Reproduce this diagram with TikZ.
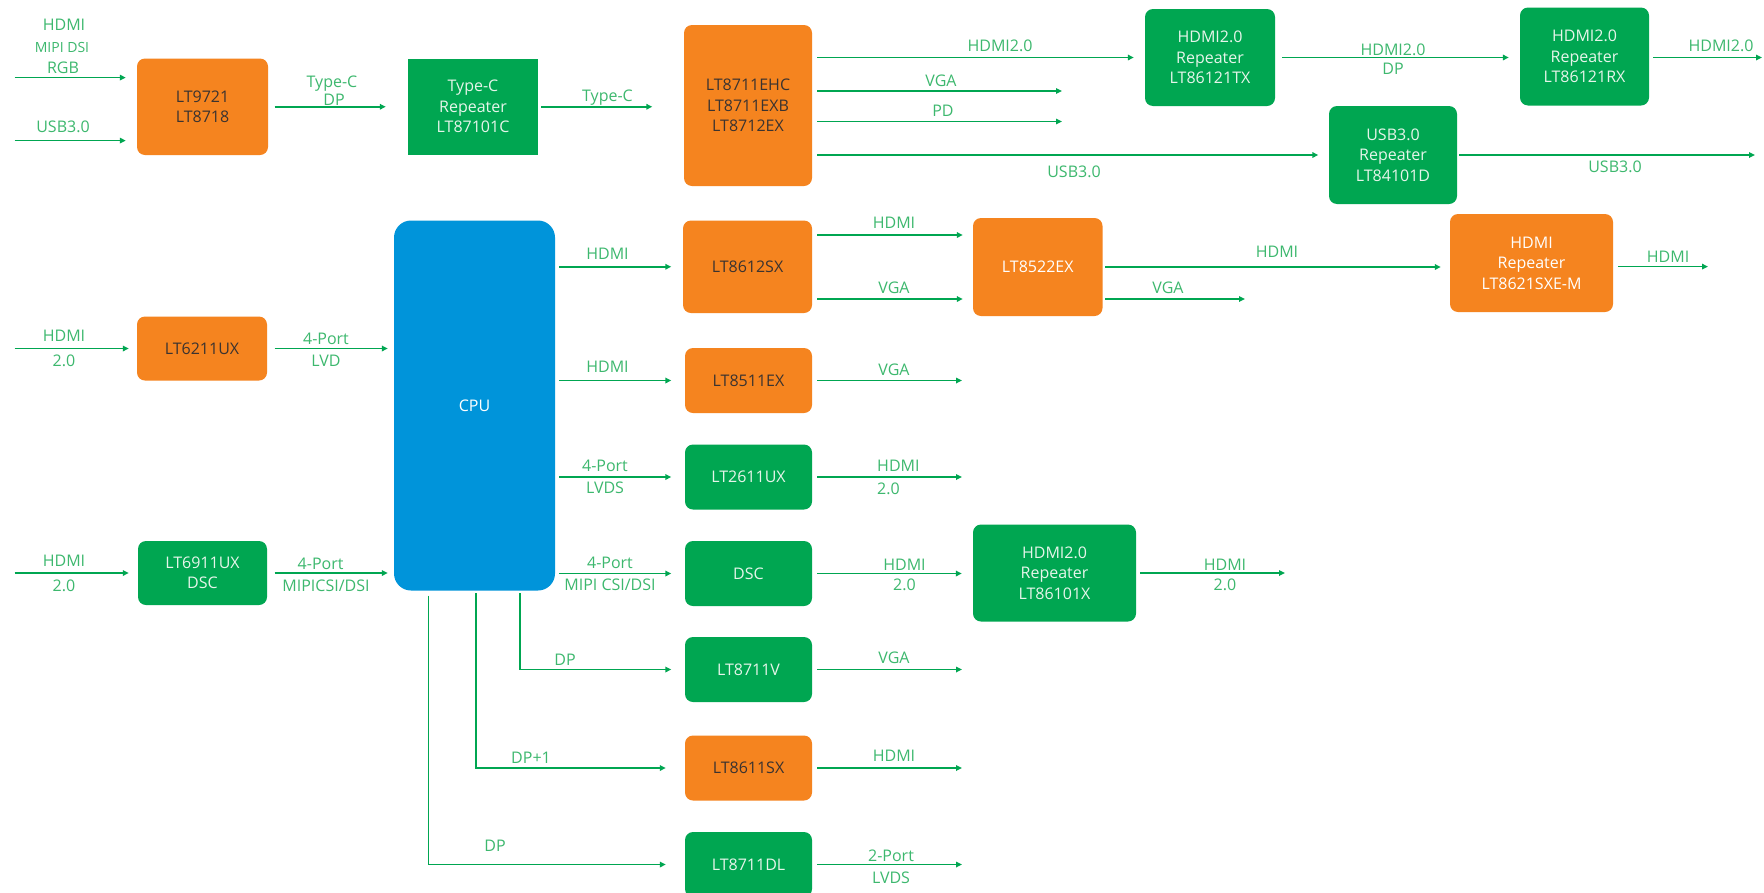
\documentclass[tikz,border=0pt]{standalone}
\usepackage{fontspec}
\setmainfont{Open Sans}
\usetikzlibrary{arrows.meta,calc}
\definecolor{orgc}{HTML}{F5841F}
\definecolor{grnc}{HTML}{00A651}
\definecolor{bluc}{HTML}{0094DA}
\definecolor{lblc}{HTML}{3DB86E}
\definecolor{inkc}{HTML}{3B3330}
\definecolor{palec}{HTML}{E6F5EA}
\begin{document}
\begin{tikzpicture}[x=1pt,y=-1pt,
  boxbase/.style={draw=none, inner sep=0pt, align=center, font=\fontsize{16}{20.5}\selectfont},
  obox/.style={boxbase, fill=orgc, rounded corners=8pt, text=inkc},
  owbox/.style={boxbase, fill=orgc, rounded corners=8pt, text=white},
  gbox/.style={boxbase, fill=grnc, rounded corners=8pt, text=palec},
  gsq/.style={boxbase, fill=grnc, text=palec},
  cpubox/.style={boxbase, fill=bluc, rounded corners=17pt, text=white},
  midbox/.style={minimum width=127, minimum height=65},
  arr/.style={draw=grnc, line width=1.5pt, -{Triangle[length=6pt,width=5.5pt]}},
  lbl/.style={text=lblc, font=\fontsize{16}{19}\selectfont, inner sep=0pt, text height=11.5pt, text depth=0pt},
  slbl/.style={lbl, font=\fontsize{14}{16}\selectfont, text height=10pt}
]
\fill[white] (0,0) rectangle (1764,892);
\useasboundingbox (0,0) rectangle (1764,892);

% ---------- boxes ----------
\node[obox, minimum width=131, minimum height=96.5] (lt9721) at (202.5,106.75) {LT9721\\LT8718};
\node[gsq, minimum width=130, minimum height=96.5] (tcrep) at (473,106.75) {Type-C\\Repeater\\LT87101C};
\node[obox, minimum width=128, minimum height=161] (lt8711) at (748,105.5) {LT8711EHC\\LT8711EXB\\LT8712EX};
\node[gbox, minimum width=130, minimum height=97] (tx) at (1210,57.5) {HDMI2.0\\Repeater\\LT86121TX};
\node[gbox, minimum width=129, minimum height=98] (rx) at (1584.5,56.5) {HDMI2.0\\Repeater\\LT86121RX};
\node[gbox, minimum width=128, minimum height=98] (usbrep) at (1393,155) {USB3.0\\Repeater\\LT84101D};

\node[cpubox, minimum width=161, minimum height=370] (cpu) at (474.5,405.5) {CPU};
\node[obox, minimum width=130, minimum height=64] (lt6211) at (202,348.5) {LT6211UX};
\node[gbox, minimum width=129, minimum height=64] (lt6911) at (202.5,573) {LT6911UX\\DSC};

\node[obox, minimum width=129, minimum height=92.5] (lt8612) at (747.5,266.75) {LT8612SX};
\node[owbox, minimum width=129.5, minimum height=98] (lt8522) at (1037.75,267) {LT8522EX};
\node[owbox, minimum width=163, minimum height=98] (lt8621) at (1531.5,263) {HDMI\\Repeater\\LT8621SXE-M};
\node[obox, midbox] (lt8511) at (748.5,380.5) {LT8511EX};
\node[gbox, midbox] (lt2611) at (748.5,477) {LT2611UX};
\node[gbox, midbox] (dsc) at (748.5,573.5) {DSC};
\node[gbox, minimum width=163, minimum height=97] (lt86101) at (1054.5,573) {HDMI2.0\\Repeater\\LT86101X};
\node[gbox, midbox] (lt8711v) at (748.5,669.5) {LT8711V};
\node[obox, midbox] (lt8611) at (748.5,768) {LT8611SX};
\node[gbox, midbox] (lt8711dl) at (748.5,864.5) {LT8711DL};

% ---------- free ends ----------
\coordinate (inA) at (14.6,77.6);
\coordinate (inB) at (14.6,140.6);
\coordinate (vgaA) at (1062,91);
\coordinate (pdA) at (1062,121.5);
\coordinate (rxO) at (1762,57.5);
\coordinate (usbO) at (1755,155);
\coordinate (in6211) at (14.6,348.5);
\coordinate (in6911) at (14.6,573);
\coordinate (vga8522) at (1245,299);
\coordinate (o8621) at (1708,266.6);
\coordinate (o8511) at (962,380.5);
\coordinate (o2611) at (962,477);
\coordinate (o86101) at (1285,573);
\coordinate (o8711v) at (962,669.5);
\coordinate (o8611) at (962,768);
\coordinate (o8711dl) at (962,864.5);

% ---------- connectors ----------
\draw[arr] (inA) -- ($(lt9721.west |- inA)+(-11,0)$);
\draw[arr] (inB) -- ($(lt9721.west |- inB)+(-11,0)$);
\draw[arr] ($(lt9721.east)+(6.5,0)$) -- ($(tcrep.west)+(-22,0)$);
\draw[arr] ($(tcrep.east)+(3,0)$) -- ($(lt8711.west |- tcrep.east)+(-31.5,0)$);
\draw[arr] ($(lt8711.east |- tx.west)+(5,0)$) -- ($(tx.west)+(-11,0)$);
\draw[arr] ($(lt8711.east |- vgaA)+(5,0)$) -- (vgaA);
\draw[arr] ($(lt8711.east |- pdA)+(5,0)$) -- (pdA);
\draw[arr] ($(lt8711.east |- usbrep.west)+(5,0)$) -- ($(usbrep.west)+(-10.5,0)$);
\draw[arr] ($(tx.east)+(7,0)$) -- ($(rx.west |- tx.east)+(-11,0)$);
\draw[arr] ($(rx.east |- rxO)+(4,0)$) -- (rxO);
\draw[arr] ($(usbrep.east)+(2,0)$) -- (usbO);

\draw[arr] (in6211) -- ($(lt6211.west |- in6211)+(-8,0)$);
\draw[arr] ($(lt6211.east)+(7.5,0)$) -- ($(cpu.west |- lt6211.east)+(-6,0)$);
\draw[arr] (in6911) -- ($(lt6911.west |- in6911)+(-9,0)$);
\draw[arr] ($(lt6911.east)+(7.5,0)$) -- ($(cpu.west |- lt6911.east)+(-6,0)$);

\draw[arr] ($(cpu.east |- lt8612.west)+(4,0)$) -- ($(lt8612.west)+(-11.5,0)$);
\draw[arr] ($(lt8612.east)+(5,-31.75)$) -- ($(lt8522.west)+(-10,-32)$);
\draw[arr] ($(lt8612.east)+(5,32.25)$) -- ($(lt8522.west)+(-10,32)$);
\draw[arr] ($(lt8522.east)+(2.5,0)$) -- ($(lt8621.west |- lt8522.east)+(-9,0)$);
\draw[arr] ($(lt8522.east |- vga8522)+(2.5,0)$) -- (vga8522);
\draw[arr] ($(lt8621.east |- o8621)+(5,0)$) -- (o8621);

\draw[arr] ($(cpu.east |- lt8511.west)+(4,0)$) -- ($(lt8511.west)+(-13.5,0)$);
\draw[arr] ($(lt8511.east)+(5,0)$) -- (o8511);
\draw[arr] ($(cpu.east |- lt2611.west)+(4,0)$) -- ($(lt2611.west)+(-13.5,0)$);
\draw[arr] ($(lt2611.east)+(5,0)$) -- (o2611);
\draw[arr] ($(cpu.east |- dsc.west)+(4,0)$) -- ($(dsc.west)+(-13.5,0)$);
\draw[arr] ($(dsc.east)+(5,0)$) -- ($(lt86101.west |- dsc.east)+(-11,0)$);
\draw[arr] ($(lt86101.east |- o86101)+(4,0)$) -- (o86101);

\draw[arr] ($(cpu.south)+(45.5,2.5)$) |- ($(lt8711v.west)+(-13.5,0)$);
\draw[arr] ($(lt8711v.east)+(5,0)$) -- (o8711v);
\draw[arr] ($(cpu.south)+(1.5,2.5)$) |- ($(lt8611.west)+(-19,0)$);
\draw[arr] ($(lt8611.east)+(5,0)$) -- (o8611);
\draw[arr] ($(cpu.south)+(-46,5)$) |- ($(lt8711dl.west)+(-19,0)$);
\draw[arr] ($(lt8711dl.east)+(5,0)$) -- (o8711dl);

% ---------- labels ----------
\node[lbl] (t1) at (64,25) {HDMI};
\node[slbl] (t2) at (62,47) {MIPI DSI};
\node[lbl] (t3) at (63,67.5) {RGB};
\node[lbl] (t4) at (63,127) {USB3.0};
\node[lbl] (t5) at (332,82) {Type-C};
\node[lbl] (t6) at (334,100) {DP};
\node[lbl] (t7) at (607.5,96) {Type-C};
\node[lbl] (t8) at (1000,46) {HDMI2.0};
\node[lbl] (t9) at (941,81) {VGA};
\node[lbl] (t10) at (943,111) {PD};
\node[lbl] (t11) at (1074,172) {USB3.0};
\node[lbl] (t12) at (1393,49.5) {HDMI2.0};
\node[lbl] (t13) at (1393,69) {DP};
\node[lbl] (t14) at (1721,46) {HDMI2.0};
\node[lbl] (t15) at (1615,167) {USB3.0};

\node[lbl] (t16) at (64,336) {HDMI};
\node[lbl] (t17) at (64,361) {2.0};
\node[lbl] (t18) at (326,338.6) {4-Port};
\node[lbl] (t19) at (326,361) {LVD};
\node[lbl] (t20) at (64,561) {HDMI};
\node[lbl] (t21) at (64,586) {2.0};
\node[lbl] (t22) at (320.6,564) {4-Port};
\node[lbl] (t23) at (326,586) {MIPICSI/DSI};

\node[lbl] (t24) at (607.5,254) {HDMI};
\node[lbl] (t25) at (894,223) {HDMI};
\node[lbl] (t26) at (894,288) {VGA};
\node[lbl] (t27) at (1277,252) {HDMI};
\node[lbl] (t28) at (1168,288) {VGA};
\node[lbl] (t29) at (1668,256.5) {HDMI};
\node[lbl] (t30) at (607.5,367) {HDMI};
\node[lbl] (t31) at (894,370) {VGA};
\node[lbl] (t32) at (605,466) {4-Port};
\node[lbl] (t33) at (605,488) {LVDS};
\node[lbl, anchor=west] (t34) at (877,466) {HDMI};
\node[lbl, anchor=west] (t35) at (877,489) {2.0};
\node[lbl] (t36) at (610,562.5) {4-Port};
\node[lbl] (t37) at (610,585) {MIPI CSI/DSI};
\node[lbl] (t38) at (904.5,565) {HDMI};
\node[lbl] (t39) at (904.5,585) {2.0};
\node[lbl] (t40) at (1225,565) {HDMI};
\node[lbl] (t41) at (1225,585) {2.0};
\node[lbl] (t42) at (565,660) {DP};
\node[lbl] (t43) at (894,658) {VGA};
\node[lbl] (t44) at (531,758) {DP+1};
\node[lbl] (t45) at (894,756) {HDMI};
\node[lbl] (t46) at (495,846) {DP};
\node[lbl] (t47) at (891,856) {2-Port};
\node[lbl] (t48) at (891,877.5) {LVDS};
\end{tikzpicture}
\end{document}
